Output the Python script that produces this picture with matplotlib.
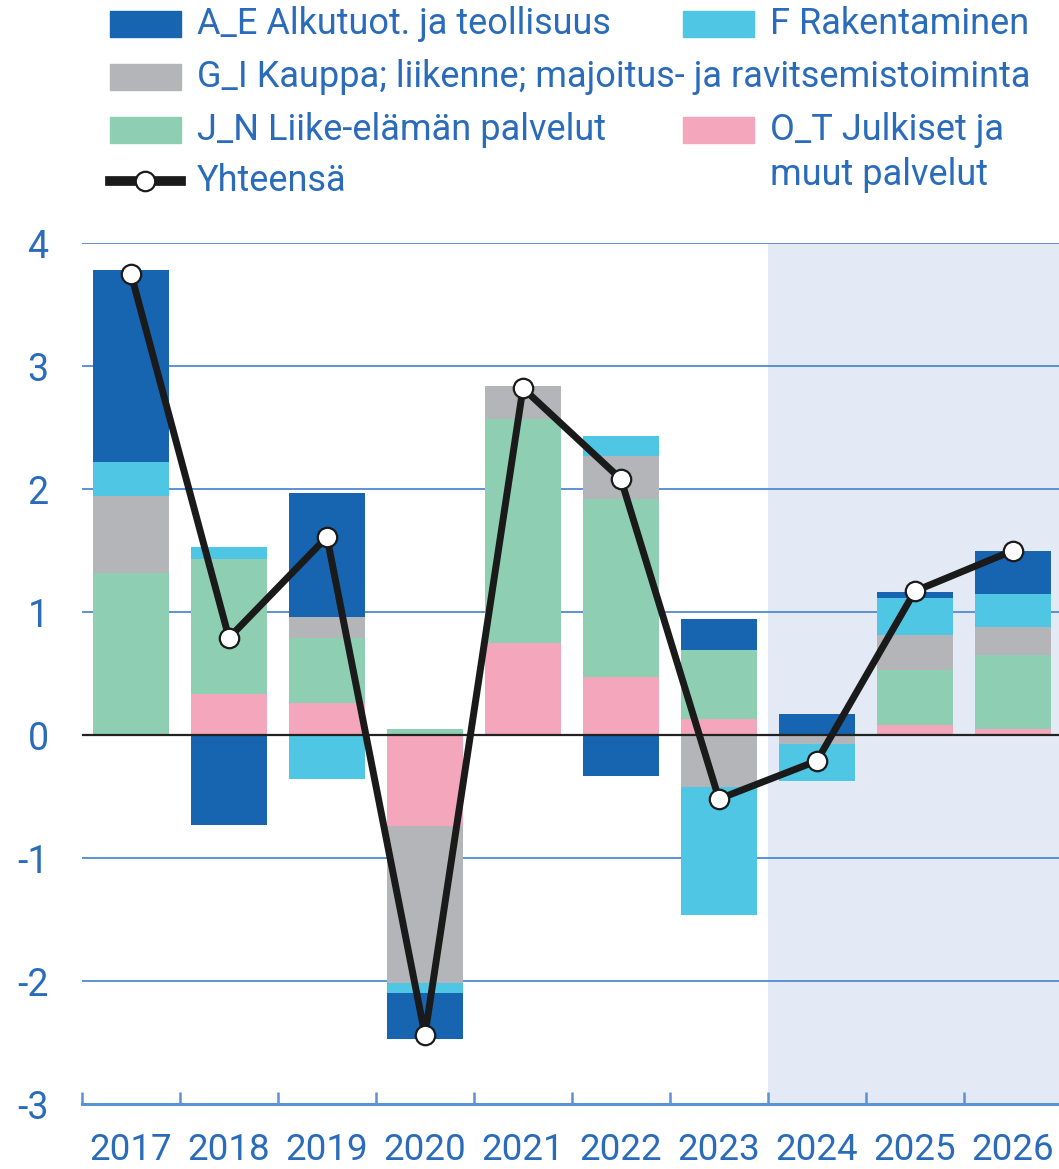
import numpy as np
import matplotlib
matplotlib.use("Agg")
import matplotlib.pyplot as plt
from matplotlib.patches import Rectangle
from matplotlib.lines import Line2D

plt.rcParams["font.family"] = ["Roboto", "DejaVu Sans"]

# ── Data ──────────────────────────────────────────────────────────────────────
years = ["2017", "2018", "2019", "2020", "2021", "2022", "2023", "2024", "2025", "2026"]

ot_julkiset = [0.00, 0.33, 0.26, -0.74, 0.75, 0.47, 0.13, 0.00, 0.08, 0.05]
jn_liike    = [1.32, 1.10, 0.53, 0.05, 1.82, 1.45, 0.56, 0.00, 0.45, 0.60]
gi_kauppa   = [0.62, 0.00, 0.17, -1.28, 0.27, 0.35, -0.42, -0.07, 0.28, 0.23]
f_rakent    = [0.28, 0.10, -0.36, -0.08, 0.00, 0.16, -1.04, -0.30, 0.30, 0.27]
ae_teoll    = [1.56, -0.73, 1.01, -0.37, 0.00, -0.33, 0.25, 0.17, 0.05, 0.35]
yhteensa    = [3.75, 0.79, 1.61, -2.44, 2.82, 2.08, -0.52, -0.21, 1.17, 1.50]

# stacking order from zero outwards
series = [
    ("O_T", ot_julkiset, "#f4a6bd"),
    ("J_N", jn_liike,    "#8ecfb3"),
    ("G_I", gi_kauppa,   "#b4b5b9"),
    ("F",   f_rakent,    "#4fc6e4"),
    ("A_E", ae_teoll,    "#1764b0"),
]

BLUE_TXT = "#2a6cbb"
GRID = "#5b92d4"
SHADE = "#e4eaf5"

# ── Figure ────────────────────────────────────────────────────────────────────
fig = plt.figure(figsize=(10.59, 11.69), dpi=100)
ax = fig.add_axes([0.0774, 0.0556, 0.9226, 0.7365])

x = np.arange(len(years))
pos_bottom = np.zeros(len(years))
neg_bottom = np.zeros(len(years))
for name, vals, col in series:
    v = np.array(vals)
    pos = np.where(v > 0, v, 0)
    neg = np.where(v < 0, v, 0)
    ax.bar(x, pos, bottom=pos_bottom, width=0.78, color=col, zorder=2)
    ax.bar(x, neg, bottom=neg_bottom, width=0.78, color=col, zorder=2)
    pos_bottom += pos
    neg_bottom += neg

ax.plot(x, yhteensa, color="#1a1a1a", linewidth=5, zorder=4,
        marker="o", markersize=14, markerfacecolor="white",
        markeredgecolor="#1a1a1a", markeredgewidth=1.6)

ax.axvspan(6.5, 9.5, color=SHADE, zorder=0, linewidth=0)
for yv in [4, 3, 2, 1, -1, -2]:
    ax.axhline(yv, color=GRID, linewidth=1.4, zorder=1)
ax.axhline(0, color="#222222", linewidth=1.6, zorder=3)

ax.set_xlim(-0.5, 9.47)
ax.set_ylim(-3, 4)
ax.set_facecolor("none")

for s in ["top", "right", "left"]:
    ax.spines[s].set_visible(False)
ax.spines["bottom"].set_color(GRID)
ax.spines["bottom"].set_linewidth(2.2)

ax.set_yticks(range(-3, 5))
ax.set_yticklabels([str(v) for v in range(-3, 5)])
ax.tick_params(axis="y", length=0, pad=24, labelsize=27, labelcolor=BLUE_TXT)

ax.set_xticks(x)
ax.set_xticklabels(years)
ax.set_xticks(np.arange(-0.5, 9.5, 1.0), minor=True)
ax.tick_params(axis="x", which="major", length=0, pad=20, labelsize=26.5,
               labelcolor=BLUE_TXT)
ax.tick_params(axis="x", which="minor", direction="in", length=9, width=1.8,
               color=GRID)

# ── Legend (manual, figure pixels) ────────────────────────────────────────────
W, H = 1059, 1169
LEG_FS = 26


def fx(px):
    return px / W


def fy(py):
    return 1 - py / H


def legend_patch(x0, yc, color, label, extra=None):
    fig.patches.append(Rectangle((fx(x0), fy(yc + 12.5)), 71 / W, 25 / H,
                                 transform=fig.transFigure, color=color))
    fig.text(fx(x0 + 87), fy(yc), label, fontsize=LEG_FS, color=BLUE_TXT,
             va="center", ha="left")
    if extra:
        fig.text(fx(x0 + 87), fy(yc + 45), extra, fontsize=LEG_FS,
                 color=BLUE_TXT, va="center", ha="left")


legend_patch(110, 24, "#1764b0", "A_E Alkutuot. ja teollisuus")
legend_patch(683, 24, "#4fc6e4", "F Rakentaminen")
legend_patch(110, 77, "#b4b5b9", "G_I Kauppa; liikenne; majoitus- ja ravitsemistoiminta")
legend_patch(110, 130, "#8ecfb3", "J_N Liike-elämän palvelut")
legend_patch(683, 130, "#f4a6bd", "O_T Julkiset ja", "muut palvelut")

fig.lines.append(Line2D([fx(110), fx(181)], [fy(181), fy(181)],
                        transform=fig.transFigure, color="#1a1a1a", linewidth=7))
fig.lines.append(Line2D([fx(145)], [fy(181)], transform=fig.transFigure,
                        marker="o", markersize=14, markerfacecolor="white",
                        markeredgecolor="#1a1a1a", markeredgewidth=1.6))
fig.text(fx(197), fy(181), "Yhteensä", fontsize=LEG_FS, color=BLUE_TXT,
         va="center", ha="left")

fig.savefig("out.png", dpi=100)
